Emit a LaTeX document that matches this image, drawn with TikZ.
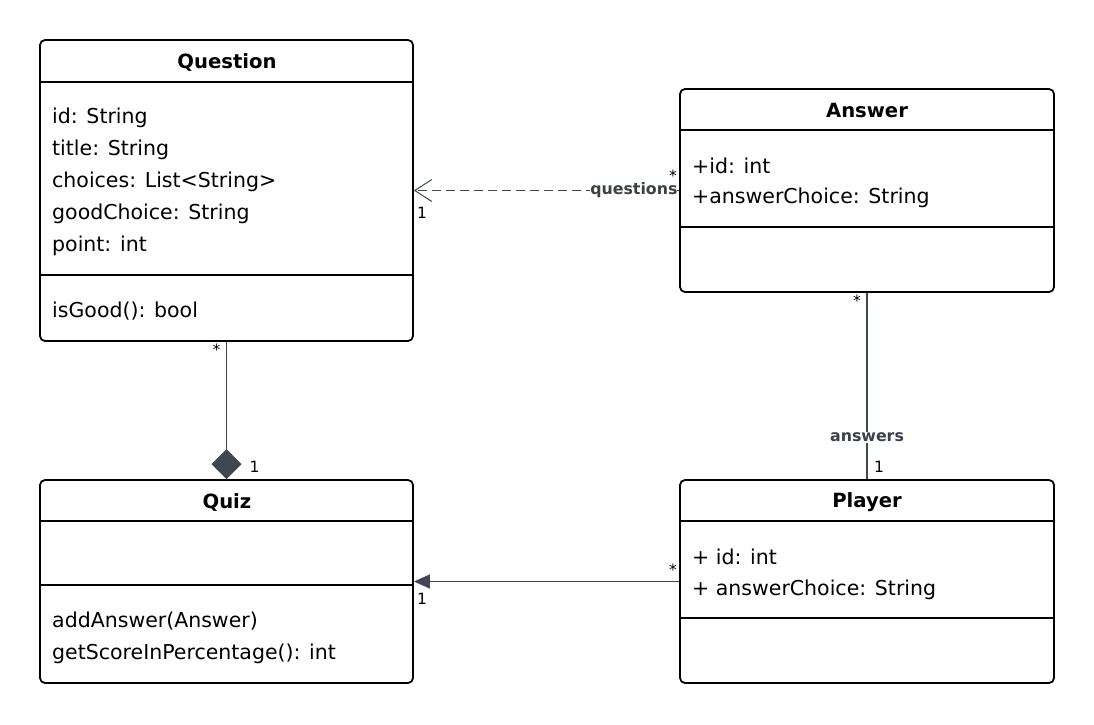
\documentclass[tikz,border=0pt]{standalone}
\usepackage{fontspec}
\setmainfont{DejaVu Sans}
\usetikzlibrary{arrows.meta}
\definecolor{conn}{HTML}{404652}
\definecolor{lblc}{HTML}{3C4048}
\tikzset{
  umlbox/.style={draw=black, line width=1.8pt, rounded corners=5pt, fill=white, inner sep=0pt},
  sepline/.style={draw=black, line width=1.8pt},
  title/.style={font=\fontsize{19.6}{23}\selectfont\bfseries, inner sep=0pt},
  attr/.style={font=\fontsize{20.5}{24}\selectfont, anchor=west, inner sep=0pt, yshift=-2pt},
  conline/.style={draw=conn, line width=1.3pt},
  lbl/.style={font=\fontsize{15.8}{18}\selectfont\bfseries, text=lblc, fill=white, inner sep=1pt},
  mult/.style={font=\fontsize{15.5}{17}\selectfont, text=black, inner sep=1pt},
}
\begin{document}
\begin{tikzpicture}[x=1pt,y=-1pt]
\useasboundingbox (0,0) rectangle (1094,724);
% boxes
\node[umlbox, minimum width=373pt, minimum height=301pt] (question) at (226.5,190.5) {};
\node[umlbox, minimum width=374pt, minimum height=203pt] (answer) at (867,190.5) {};
\node[umlbox, minimum width=373pt, minimum height=203pt] (quiz) at (226.5,581.5) {};
\node[umlbox, minimum width=374pt, minimum height=203pt] (player) at (867,581.5) {};
% separators
\draw[sepline] ([yshift=-43pt]question.north west) -- ([yshift=-43pt]question.north east);
\draw[sepline] ([yshift=-236pt]question.north west) -- ([yshift=-236pt]question.north east);
\draw[sepline] ([yshift=-42pt]answer.north west) -- ([yshift=-42pt]answer.north east);
\draw[sepline] ([yshift=-139pt]answer.north west) -- ([yshift=-139pt]answer.north east);
\draw[sepline] ([yshift=-42pt]quiz.north west) -- ([yshift=-42pt]quiz.north east);
\draw[sepline] ([yshift=-106pt]quiz.north west) -- ([yshift=-106pt]quiz.north east);
\draw[sepline] ([yshift=-42pt]player.north west) -- ([yshift=-42pt]player.north east);
\draw[sepline] ([yshift=-139pt]player.north west) -- ([yshift=-139pt]player.north east);
% titles
\node[title] (qt) at (227,62) {Question};
\node[title] (at) at (867,110) {Answer};
\node[title] (zt) at (227,502) {Quiz};
\node[title] (pt) at (867,502) {Player};
% Question attributes
\node[attr] (q1) at (52,116) {id: String};
\node[attr] (q2) at (52,148) {title: String};
\node[attr] (q3) at (52,180) {choices: List<String>};
\node[attr] (q4) at (52,212) {goodChoice: String};
\node[attr] (q5) at (52,244) {point: int};
\node[attr] (q6) at (52,309) {isGood(): bool};
% Answer attributes
\node[attr] (a1) at (692,164) {+id: int};
\node[attr] (a2) at (692,196) {+answerChoice: String};
% Quiz methods
\node[attr] (z1) at (52,619) {addAnswer(Answer)};
\node[attr] (z2) at (52,652) {getScoreInPercentage(): int};
% Player attributes
\node[attr] (p1) at (692,555) {+ id: int};
\node[attr] (p2) at (692,588) {+ answerChoice: String};
% connectors
\draw[conline, dashed, dash pattern=on 9pt off 5pt, -{Straight Barb[length=17pt,width=22pt,line width=1pt]}]
  (answer.west) -- node[pos=0, anchor=east, lbl, inner sep=0pt, xshift=-1pt] (qlbl) {questions} (question.east);
\node[mult, anchor=south east] (m1) at ([xshift=-1pt,yshift=8pt]answer.west) {*};
\node[mult, anchor=north west] (m2) at ([xshift=2pt,yshift=-15pt]question.east) {1};

\draw[conline, -{Diamond[length=30pt,width=30pt]}, fill=conn] (question.south) -- (quiz.north);
\node[mult, anchor=north east] (m3) at ([xshift=-5pt,yshift=-1pt]question.south) {*};
\node[mult, anchor=west] (m4) at ([xshift=22pt,yshift=12pt]quiz.north) {1};

\draw[conline] (answer.south) -- node[pos=0.777, lbl] (albl) {answers} (player.north);
\node[mult, anchor=north east] (m5) at ([xshift=-5pt,yshift=-1pt]answer.south) {*};
\node[mult, anchor=west] (m6) at ([xshift=6pt,yshift=12pt]player.north) {1};

\draw[conline, -{Triangle[length=16pt,width=14pt]}, fill=conn] (player.west) -- (quiz.east);
\node[mult, anchor=south east] (m7) at ([xshift=-1pt,yshift=5pt]player.west) {*};
\node[mult, anchor=north west] (m8) at ([xshift=2pt,yshift=-10pt]quiz.east) {1};
\end{tikzpicture}
\end{document}
